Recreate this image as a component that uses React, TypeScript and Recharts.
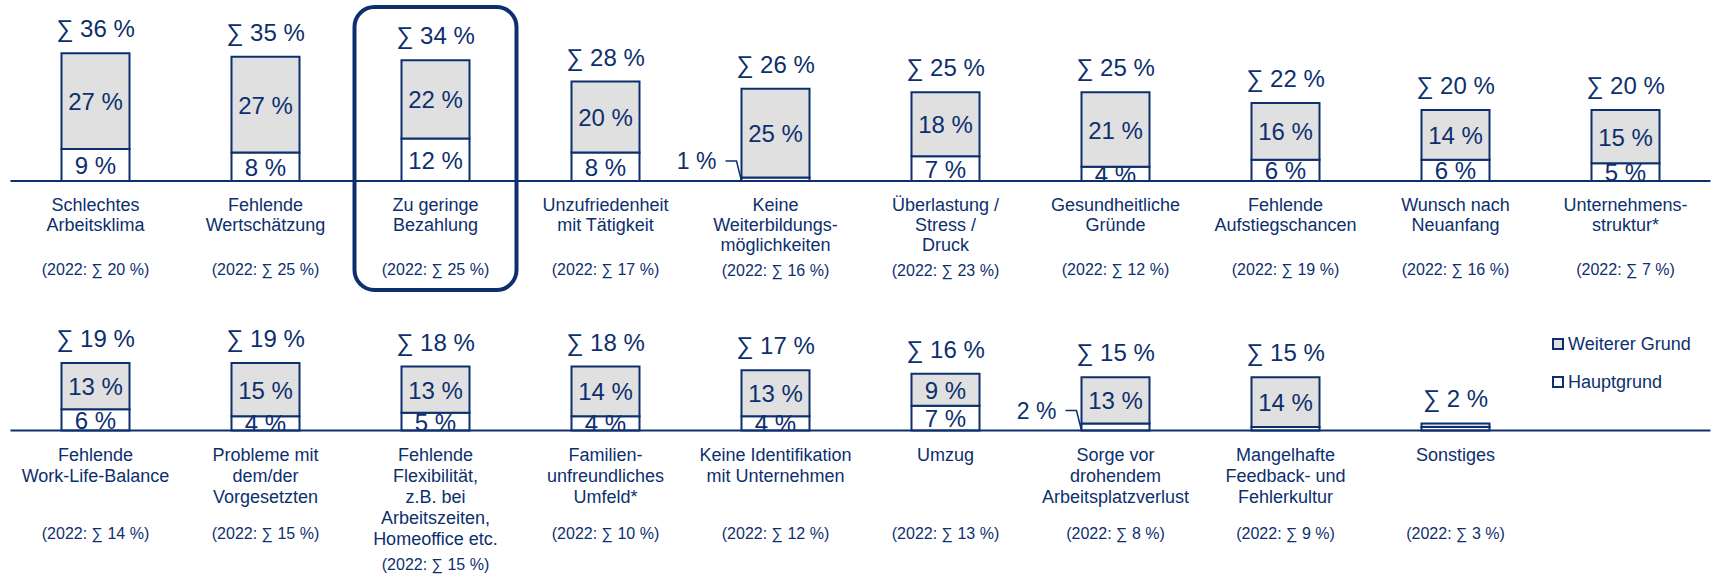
import { Bar, BarChart, LabelList, Legend, XAxis, YAxis } from "recharts";

const BLUE = "#0d2f6e";
const GRAY = "#e0e0e0";
const FONT = "'Liberation Sans', Arial, sans-serif";

const categoriesTop = [
  "Schlechtes\nArbeitsklima",
  "Fehlende\nWertschätzung",
  "Zu geringe\nBezahlung",
  "Unzufriedenheit\nmit Tätigkeit",
  "Keine\nWeiterbildungs-\nmöglichkeiten",
  "Überlastung /\nStress /\nDruck",
  "Gesundheitliche\nGründe",
  "Fehlende\nAufstiegschancen",
  "Wunsch nach\nNeuanfang",
  "Unternehmens-\nstruktur*",
];
const hauptTop = [9, 8, 12, 8, 1, 7, 4, 6, 6, 5];
const weitererTop = [27, 27, 22, 20, 25, 18, 21, 16, 14, 15];
const sumTop = [36, 35, 34, 28, 26, 25, 25, 22, 20, 20];
const prevTop = [20, 25, 25, 17, 16, 23, 12, 19, 16, 7];

const categoriesBottom = [
  "Fehlende\nWork-Life-Balance",
  "Probleme mit\ndem/der\nVorgesetzten",
  "Fehlende\nFlexibilität,\nz.B. bei\nArbeitszeiten,\nHomeoffice etc.",
  "Familien-\nunfreundliches\nUmfeld*",
  "Keine Identifikation\nmit Unternehmen",
  "Umzug",
  "Sorge vor\ndrohendem\nArbeitsplatzverlust",
  "Mangelhafte\nFeedback- und\nFehlerkultur",
  "Sonstiges",
];
const hauptBottom = [6, 4, 5, 4, 4, 7, 2, 1, 1];
const weitererBottom = [13, 15, 13, 14, 13, 9, 13, 14, 1];
const sumBottom = [19, 19, 18, 18, 17, 16, 15, 15, 2];
const prevBottom = [14, 15, 15, 10, 12, 13, 8, 9, 3];

// small Hauptgrund shares that get a label with a leader line instead of an inner label
const callouts = ["Keine\nWeiterbildungs-\nmöglichkeiten", "Sorge vor\ndrohendem\nArbeitsplatzverlust"];
const highlighted = "Zu geringe\nBezahlung";

type Row = { name: string; haupt: number; weiterer: number; sum: number; prev: number; callout: boolean };

const buildRows = (names: string[], haupt: number[], weiterer: number[], sums: number[], prev: number[]): Row[] =>
  names.map((name, i) => ({
    name,
    haupt: haupt[i],
    weiterer: weiterer[i],
    sum: sums[i],
    prev: prev[i],
    callout: callouts.includes(name),
  }));

const rowsTop = buildRows(categoriesTop, hauptTop, weitererTop, sumTop, prevTop);
const rowsBottom = buildRows(categoriesBottom, hauptBottom, weitererBottom, sumBottom, prevBottom);

const box = (p: any) => {
  const vb = p.viewBox || {};
  return {
    x: Number(p.x ?? vb.x),
    y: Number(p.y ?? vb.y),
    w: Number(p.width ?? vb.width),
    h: Number(p.height ?? vb.height),
  };
};

function hauptLabel(p: any, rows: Row[], key: string) {
  const { x, y, w, h } = box(p);
  const row = rows[p.index];
  if (!row) return null;
  if (row.callout) {
    const cy = y + h - 20;
    return (
      <g>
        <text x={x - 25} y={cy + 8} textAnchor="end" fill={BLUE} fontSize={23} fontFamily={FONT}>
          {row.haupt} %
        </text>
        <polyline points={`${x - 16},${cy} ${x - 5},${cy} ${x},${y + h}`} fill="none" stroke={BLUE} strokeWidth={1.5} />
      </g>
    );
  }
  if (row.haupt < 3) return null;
  const id = `clip-${key}-${p.index}`;
  return (
    <g>
      <defs>
        <clipPath id={id}>
          <rect x={x - 10} y={y - 40} width={w + 20} height={h + 40} />
        </clipPath>
      </defs>
      <text x={x + w / 2} y={y + h / 2 + 9} textAnchor="middle" fill={BLUE} fontSize={24} fontFamily={FONT} clipPath={`url(#${id})`}>
        {row.haupt} %
      </text>
    </g>
  );
}

function weitererLabel(p: any, rows: Row[]) {
  const { x, y, w, h } = box(p);
  const row = rows[p.index];
  if (!row || row.weiterer < 3) return null;
  return (
    <text x={x + w / 2} y={y + h / 2 + 9} textAnchor="middle" fill={BLUE} fontSize={24} fontFamily={FONT}>
      {row.weiterer} %
    </text>
  );
}

function sumLabel(p: any, rows: Row[]) {
  const { x, y, w } = box(p);
  const row = rows[p.index];
  if (!row) return null;
  return (
    <text x={x + w / 2} y={y - 16} textAnchor="middle" fill={BLUE} fontSize={24} fontFamily={FONT}>
      ∑ {row.sum} %
    </text>
  );
}

function CategoryTick(props: any) {
  const { x, y, payload, rows, prevBase, lineGap } = props;
  const row = (rows as Row[]).find((r) => r.name === payload.value);
  if (!row) return null;
  const lines = row.name.split("\n");
  const prevY = Math.max(prevBase, 30 + (lines.length - 1) * lineGap + 25);
  return (
    <g>
      {row.name === highlighted && (
        <rect x={x - 81} y={y - 174} width={162} height={283} rx={20} ry={20} fill="none" stroke={BLUE} strokeWidth={4} />
      )}
      <text x={x} y={y + 30} textAnchor="middle" fill={BLUE} fontSize={18} fontFamily={FONT}>
        {lines.map((l: string, i: number) => (
          <tspan key={i} x={x} dy={i === 0 ? 0 : lineGap}>
            {l}
          </tspan>
        ))}
      </text>
      <text x={x} y={y + prevY} textAnchor="middle" fill={BLUE} fontSize={16} fontFamily={FONT}>
        (2022: ∑ {row.prev} %)
      </text>
    </g>
  );
}

function LegendBox({ payload }: any) {
  const items = [...(payload || [])].reverse();
  return (
    <div style={{ fontFamily: FONT, fontSize: 18, color: BLUE }}>
      {items.map((it: any) => (
        <div key={it.value} style={{ display: "flex", alignItems: "center", height: 20, marginBottom: 18, whiteSpace: "nowrap" }}>
          <span
            style={{
              display: "inline-block",
              width: 8,
              height: 8,
              border: `2px solid ${BLUE}`,
              background: it.dataKey === "haupt" ? "#fff" : GRAY,
              marginRight: 4,
            }}
          />
          {it.value}
        </div>
      ))}
    </div>
  );
}

function StackRow({ rows, top, height, plotTop, plotHeight, max, prevBase, lineGap, padRight, id, legend }: any) {
  return (
    <div style={{ position: "absolute", left: 0, top }}>
      <BarChart
        width={1714}
        height={height}
        data={rows}
        margin={{ top: plotTop, right: 3.5, left: 10.5, bottom: 0 }}
        barCategoryGap="30%"
      >
        <YAxis hide domain={[0, max]} />
        <XAxis
          dataKey="name"
          interval={0}
          height={height - plotTop - plotHeight}
          tickLine={false}
          tickSize={0}
          tickMargin={0}
          padding={{ left: 0, right: padRight }}
          axisLine={{ stroke: BLUE, strokeWidth: 2 }}
          tick={(p: any) => <CategoryTick {...p} rows={rows} prevBase={prevBase} lineGap={lineGap} />}
        />
        {legend && (
          <Legend
            layout="vertical"
            align="center"
            verticalAlign="middle"
            wrapperStyle={{ position: "absolute", left: 1552, top: 34, width: 170, height: 80 }}
            content={(p: any) => <LegendBox payload={p.payload} />}
          />
        )}
        <Bar dataKey="haupt" name="Hauptgrund" stackId="s" fill="#ffffff" stroke={BLUE} strokeWidth={2} isAnimationActive={false}>
          <LabelList dataKey="haupt" content={(p: any) => hauptLabel(p, rows, id)} />
        </Bar>
        <Bar dataKey="weiterer" name="Weiterer Grund" stackId="s" fill={GRAY} stroke={BLUE} strokeWidth={2} isAnimationActive={false}>
          <LabelList dataKey="weiterer" content={(p: any) => weitererLabel(p, rows)} />
          <LabelList dataKey="sum" content={(p: any) => sumLabel(p, rows)} />
        </Bar>
      </BarChart>
    </div>
  );
}

export default function App() {
  return (
    <div style={{ position: "absolute", left: 0, top: 0, width: 1714, height: 575, background: "#fff", fontFamily: FONT }}>
      <StackRow rows={rowsTop} top={0} height={300} plotTop={39} plotHeight={142} max={40} prevBase={94} lineGap={20} padRight={0} id="top" />
      <StackRow
        rows={rowsBottom}
        top={300}
        height={275}
        plotTop={45.3}
        plotHeight={85.2}
        max={24}
        prevBase={108}
        lineGap={21}
        padRight={170}
        id="bottom"
        legend
      />
    </div>
  );
}
